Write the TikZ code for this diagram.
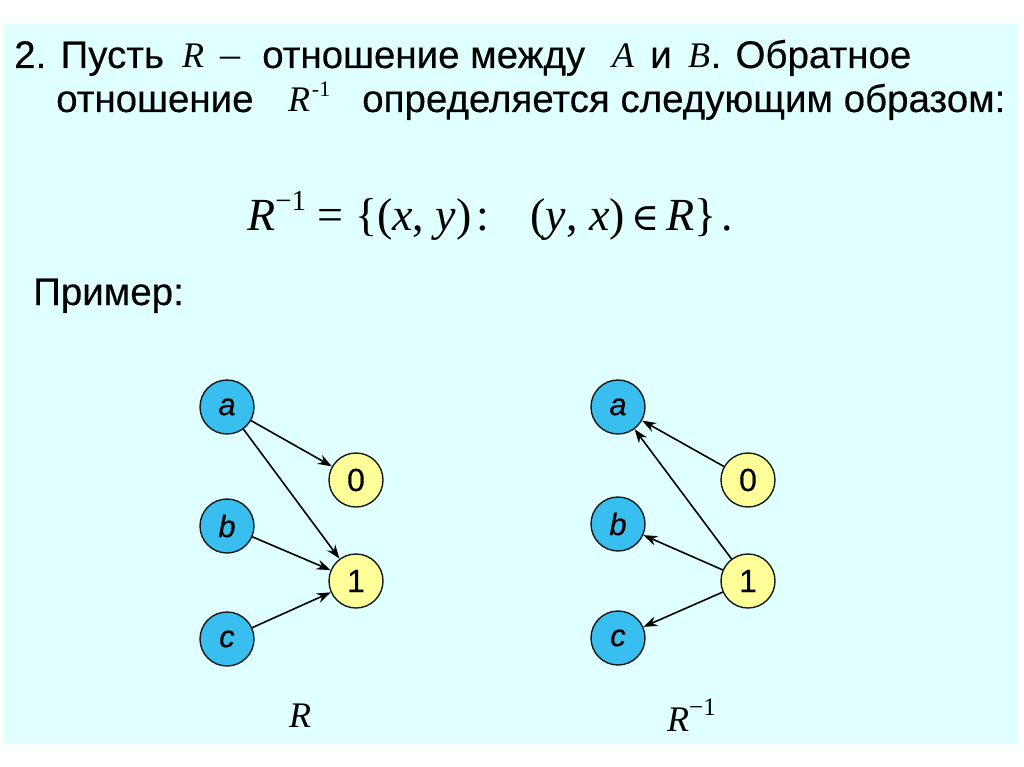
\documentclass[tikz,border=0pt]{standalone}
\usepackage{fontspec}
\setmainfont{Liberation Sans}[FakeBold=0.3]
\newfontfamily\tnr{Liberation Serif}
\newfontfamily\dvs{DejaVu Serif}
\usetikzlibrary{arrows.meta}
\definecolor{bgcyan}{RGB}{224,255,255}
\definecolor{nodeblue}{RGB}{56,191,240}
\definecolor{nodeyellow}{RGB}{255,255,153}
\tikzset{
  txt/.style={anchor=base west, inner sep=0pt, font=\fontsize{38.5}{44}\selectfont},
  mth/.style={anchor=base west, inner sep=0pt, font=\tnr\itshape\fontsize{36}{40}\selectfont},
  setA/.style={circle, draw=black!90, line width=1.4pt, fill=nodeblue, minimum size=54pt, inner sep=0pt, font=\itshape\fontsize{31}{33}\selectfont},
  setB/.style={circle, draw=black!90, line width=1.4pt, fill=nodeyellow, minimum size=54pt, inner sep=0pt, font=\fontsize{32}{34}\selectfont},
  arr/.style={-{Stealth[length=14pt,width=10pt]}, line width=1.6pt, black},
}
\begin{document}
\begin{tikzpicture}[x=1pt,y=-1pt]
\useasboundingbox (0,0) rectangle (1024,767);
\fill[white] (0,0) rectangle (1024,767);
\fill[bgcyan] (4,24) rectangle (1018,744);
% heading
\node[txt] (t1) at (14,68) {2. Пусть};
\node[mth] (r1) at (182,68) {R};
\node[txt, font=\tnr\fontsize{40}{44}\selectfont] (d1) at (220,68) {–};
\node[txt] (t2) at (262,68) {отношение между};
\node[mth] (a1) at (612,68) {A};
\node[txt] (t3) at (650,68) {и};
\node[mth] (b1) at (688,68) {B};
\node[txt] (t4) at (b1.base east) {. Обратное};
\node[txt] (t5) at (56,112) {отношение};
\node[mth] (r2) at (288,112) {R\hspace{0.05em}\raisebox{0.42em}{\upshape\fontsize{22}{24}\selectfont -1}};
\node[txt] (t6) at (362,112) {определяется следующим образом:};
% formula
\node[anchor=base west, inner sep=0pt, font=\tnr\fontsize{46}{52}\selectfont] (f) at (247,230)
  {\textit{R}\raisebox{0.42em}{\fontsize{29}{31}\selectfont −1}\hspace{0.25em}= \{(\textit{x}, \textit{y})\hspace{0.1em}:\hspace{0.9em}(\textit{y}, \textit{x})\hspace{0.15em}{\dvs\fontsize{38}{40}\selectfont ∈}\hspace{0.15em}\textit{R}\}\hspace{0.1em}.};
\node[txt] (ex) at (33,305) {Пример:};
% left graph
\node[setA] (la) at (227,407) {a};
\node[setA] (lb) at (227,526) {b};
\node[setA] (lc) at (227,639) {c};
\node[setB] (l0) at (356,480) {0};
\node[setB] (l1) at (356,581) {1};
\draw[arr] (la) -- (l0);
\draw[arr] (la) -- (l1);
\draw[arr] (lb) -- (l1);
\draw[arr] (lc) -- (l1);
% right graph
\node[setA] (ra) at (618,407) {a};
\node[setA] (rb) at (618,524) {b};
\node[setA] (rc) at (618,638) {c};
\node[setB] (r0) at (748,480) {0};
\node[setB] (r1n) at (748,581) {1};
\draw[arr] (r0) -- (ra);
\draw[arr] (r1n) -- (ra);
\draw[arr] (r1n) -- (rb);
\draw[arr] (r1n) -- (rc);
% captions
\node[anchor=base west, inner sep=0pt, font=\tnr\itshape\fontsize{36}{40}\selectfont] (capR) at (289,727) {R};
\node[anchor=base west, inner sep=0pt, font=\tnr\fontsize{36}{40}\selectfont] (capRi) at (667,731) {\textit{R}\raisebox{0.42em}{\fontsize{25}{27}\selectfont −1}};
\end{tikzpicture}
\end{document}
